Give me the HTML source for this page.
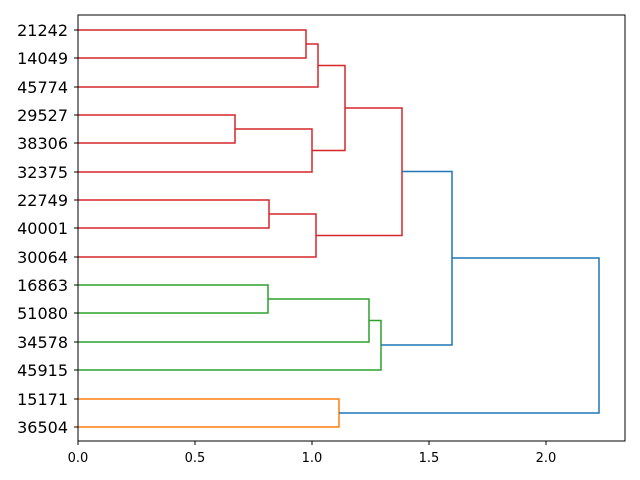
<!DOCTYPE html>
<html><head><meta charset="utf-8"><style>body{margin:0;background:#fff}svg{display:block}</style></head><body>
<svg width="640" height="480" xmlns="http://www.w3.org/2000/svg" font-family="DejaVu Sans, Liberation Sans, sans-serif">
<rect width="640" height="480" fill="#fff"/>
<g fill="none" stroke-width="1.5">
<g stroke="#d62728">
<path d="M78,30H306V58H78"/>
<path d="M306,44H318V87H78"/>
<path d="M78,115H235V143H78"/>
<path d="M235,129H312V172H78"/>
<path d="M318,65.5H345V150.5H312"/>
<path d="M78,200H269V228H78"/>
<path d="M269,214H316V257H78"/>
<path d="M345,108H402V235.5H316"/>
</g>
<g stroke="#2ca02c">
<path d="M78,285H268V313H78"/>
<path d="M268,299H369V342H78"/>
<path d="M369,320.5H381V370H78"/>
</g>
<g stroke="#ff7f0e">
<path d="M78,399H339V427H78"/>
</g>
<g stroke="#1f77b4">
<path d="M402,171.5H452V345H381"/>
<path d="M452,258H599V413H339"/>
</g>
</g>
<rect x="78" y="15" width="547" height="426" fill="none" stroke="#000" stroke-width="1"/>
<g stroke="#000" stroke-width="1">
<path d="M78,441v4M195,441v4M312,441v4M429,441v4M546,441v4"/>
<path d="M78,30h-4M78,58h-4M78,87h-4M78,115h-4M78,143h-4M78,172h-4M78,200h-4M78,228h-4M78,257h-4M78,285h-4M78,313h-4M78,342h-4M78,370h-4M78,399h-4M78,427h-4"/>
</g>
<g font-size="13" text-anchor="middle" fill="#000">
<text x="78" y="462">0.0</text><text x="195" y="462">0.5</text><text x="312" y="462">1.0</text><text x="429" y="462">1.5</text><text x="546" y="462">2.0</text>
</g>
<g font-size="16" text-anchor="end" fill="#000">
<text x="68" y="36">21242</text><text x="68" y="64">14049</text><text x="68" y="93">45774</text><text x="68" y="121">29527</text><text x="68" y="149">38306</text><text x="68" y="178">32375</text><text x="68" y="206">22749</text><text x="68" y="234">40001</text><text x="68" y="263">30064</text><text x="68" y="291">16863</text><text x="68" y="319">51080</text><text x="68" y="348">34578</text><text x="68" y="376">45915</text><text x="68" y="405">15171</text><text x="68" y="433">36504</text>
</g>
</svg>
</body></html>
